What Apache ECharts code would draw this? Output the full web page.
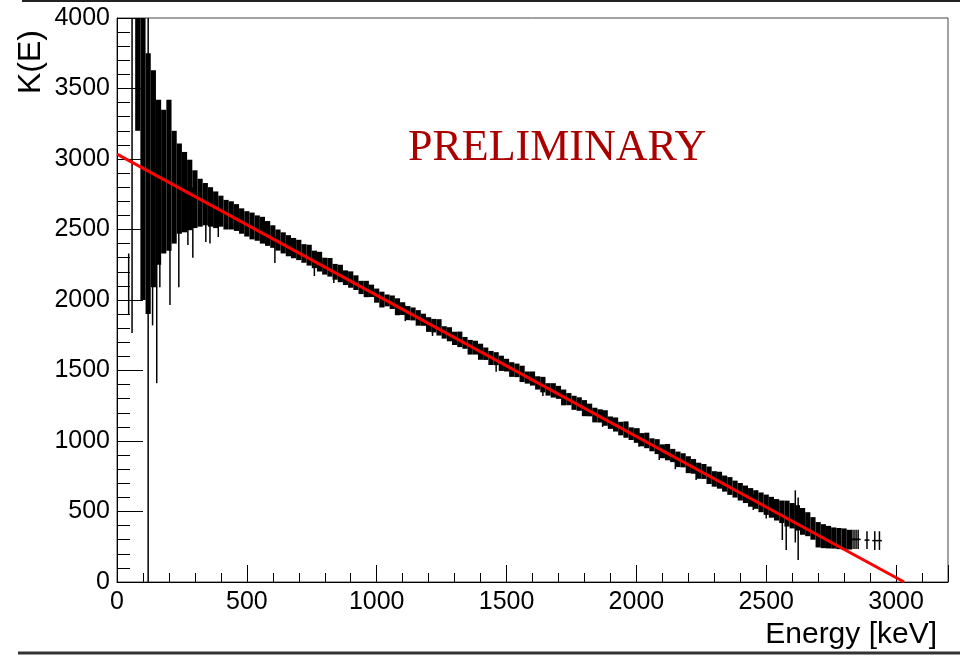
<!DOCTYPE html>
<html>
<head>
<meta charset="utf-8">
<script src="https://cdn.jsdelivr.net/npm/echarts@6/dist/echarts.min.js"></script>
<style>
html,body{margin:0;padding:0;background:#fff;}
#chart{width:960px;height:656px;}
</style>
</head>
<body>
<div id="chart"></div>
<script>
// ---- data (Kurie plot) ----
const binE = [80,100,120,140,160,180,200,220,240,260,280,300,320,340,360,380,400,420,440,460,480,500,520,540,560,580,600,620,640,660,680,700,720,740,760,780,800,820,840,860,880,900,
920,940,960,980,1000,1020,1040,1060,1080,1100,1120,1140,1160,1180,1200,1220,1240,1260,1280,1300,1320,1340,1360,1380,1400,1420,1440,1460,1480,1500,1520,1540,1560,1580,1600,1620,1640,1660,1680,1700,1720,1740,1760,1780,1800,1820,1840,1860,1880,1900,1920,1940,1960,1980,2000,2020,2040,2060,2080,2100,2120,2140,2160,2180,2200,2220,2240,2260,2280,2300,2320,2340,2360,2380,2400,2420,2440,2460,2480,2500,2520,2540,2560,2580,2600,2620,2640,2660,2680,2700,2720,2740,2760,2780,2800,2820];
const binK = [3650,3050,2825,2860,2835,2840,2885,2800,2790,2765,2745,2715,2690,2680,2660,2640,2630,2605,2600,2585,2560,2540,2525,2510,2495,2472,2450,2425,2405,2385,2368,2355,2330,2318,2288,2272,2240,2232,2200,2188,2158,2145,
2123,2089,2078,2065,2031,2003,1997,1984,1952,1939,1907,1901,1873,1860,1826,1818,1806,1770,1757,1728,1721,1696,1665,1662,1633,1619,1589,1584,1551,1538,1507,1501,1476,1450,1443,1412,1400,1366,1359,1345,1309,1297,1271,1262,1233,1220,1184,1178,1163,1130,1117,1088,1081,1052,1039,1009,1004,973,960,927,921,897,870,863,832,820,789,784,757,731,722,698,681,659,640,622,600,585,565,548,530,512,498,485,470,455,430,410,380,335,325,318,312,308,305,300];
const binErr = [450,1050,925,770,585,510,535,400,320,285,250,205,170,150,140,130,110,105,100,95,90,90,95,90,95,88,80,75,75,75,72,72,66,74,62,70,60,66,56,62,52,58,
52,47,58,44,50,56,42,48,60,45,50,46,55,43,52,48,58,44,50,47,55,42,52,49,57,44,50,46,54,45,52,48,58,43,50,47,55,44,51,46,56,43,50,48,57,45,52,47,55,44,50,48,58,45,52,47,55,46,53,49,58,47,55,50,60,52,57,53,62,55,60,57,63,60,62,62,66,66,70,72,74,76,80,92,90,90,95,85,80,90,85,80,75,75,75,70];
const binWidth = 20; // keV

// isolated bins / outliers drawn as single error bars
const spikeE    = [45,  58,  120, 137, 153, 165, 204, 238, 273, 292, 342, 358, 390, 608, 760, 835, 1110,1215,1460,1640,1870,2010,2088,2150,2230,2450,2500,2562,2577,2612,2623,2830,2838,2846,2854,2888,2918,2936];
const spikeLow  = [1900,1766,0,   1820,1410,2090,1965,2090,2390,2300,2411,2400,2447,2262,2170,2120,1850,1745,1491,1320,1100,960, 865, 800, 723, 510, 450, 298, 227, 280, 156, 234, 234, 234, 234, 234, 227, 227];
const spikeHigh = [2330,4100,4100,3000,3200,3000,2900,2900,2800,2800,2700,2700,2650,2450,2300,2230,1960,1850,1600,1420,1220,1090,960, 900, 820, 620, 560, 480, 480, 650, 600, 370, 370, 370, 370, 360, 360, 360];

// linear fit
const fitE = [0, 3031];
const fitK = [3035, 0];

const xTicksMajor = 500, xTicksMinor = 100;
const yTicksMajor = 500;

// ---- chart ----
const chart = echarts.init(document.getElementById('chart'), null, {renderer:'canvas'});
const FONT = 'Liberation Sans, Arial, Helvetica, sans-serif';

const bandData = binE.map((e, i) => [e, binK[i], binErr[i]]);
const spikeData = spikeE.map((e, i) => [e, spikeLow[i], spikeHigh[i]]);
const fitData = fitE.map((e, i) => [e, fitK[i]]);

const option = {
  animation: false,
  backgroundColor: '#ffffff',
  grid: {left:117, top:18, right:12, bottom:74, show:true, borderColor:'#444', borderWidth:1, backgroundColor:'transparent'},
  xAxis: [
    {type:'value', min:0, max:3200, interval:xTicksMajor, position:'bottom',
     axisLine:{show:true, onZero:false, lineStyle:{color:'#000', width:1}},
     axisTick:{show:true, inside:true, length:17, lineStyle:{color:'#000', width:1}},
     axisLabel:{show:true, margin:8, fontSize:25, color:'#000', fontFamily:FONT,
       formatter: v => (v % 500 === 0 ? String(v) : '')},
     splitLine:{show:false}},
    {type:'value', min:0, max:3200, interval:xTicksMinor, position:'bottom',
     axisLine:{show:false},
     axisTick:{show:true, inside:true, length:9, lineStyle:{color:'#000', width:1}},
     axisLabel:{show:false}, splitLine:{show:false}}
  ],
  yAxis: [
    {type:'value', min:0, max:4000, interval:yTicksMajor, position:'left',
     axisLine:{show:true, onZero:false, lineStyle:{color:'#000', width:1}},
     axisTick:{show:true, inside:true, length:26, lineStyle:{color:'#000', width:1}},
     minorTick:{show:true, splitNumber:5, length:13, lineStyle:{color:'#000', width:1}},
     axisLabel:{show:true, margin:7, fontSize:25, color:'#000', fontFamily:FONT, formatter: v => String(v)},
     splitLine:{show:false}}
  ],
  series: [
    {
      type:'custom', name:'data', xAxisIndex:0, yAxisIndex:0, clip:true, z:2,
      data: bandData,
      renderItem: function (params, api) {
        const e = api.value(0), k = api.value(1), s = api.value(2);
        const p1 = api.coord([e - binWidth/2, k + s]);
        const p2 = api.coord([e + binWidth/2, k - s]);
        return {type:'rect', shape:{x:p1[0], y:p1[1], width:p2[0]-p1[0], height:p2[1]-p1[1]},
                style:{fill:'#000'}};
      }
    },
    {
      type:'custom', name:'outliers', xAxisIndex:0, yAxisIndex:0, clip:true, z:2,
      data: spikeData,
      renderItem: function (params, api) {
        const e = api.value(0), lo = api.value(1), hi = api.value(2);
        const a = api.coord([e, lo]);
        const b = api.coord([e, hi]);
        const children = [{type:'line', shape:{x1:a[0], y1:a[1], x2:b[0], y2:b[1]}, style:{stroke:'#000', lineWidth:1.5}}];
        if (hi - lo < 300 && e > 2800) {
          const m = api.coord([e, (lo + hi) / 2]);
          children.push({type:'line', shape:{x1:m[0]-2.5, y1:m[1], x2:m[0]+2.5, y2:m[1]}, style:{stroke:'#000', lineWidth:1.5}});
        }
        return {type:'group', children};
      }
    },
    {
      type:'line', name:'fit', xAxisIndex:0, yAxisIndex:0, clip:true, z:3,
      data: fitData, showSymbol:false, symbol:'none',
      lineStyle:{color:'#ff0000', width:3}
    }
  ],
  graphic: [
    {type:'line', shape:{x1:22, y1:1, x2:960, y2:1}, style:{stroke:'#222', lineWidth:2}, silent:true},
    {type:'line', shape:{x1:18, y1:653, x2:960, y2:653}, style:{stroke:'#333', lineWidth:3}, silent:true},
    {type:'text', x:408, y:148, style:{text:'PRELIMINARY', font:'44px "Liberation Serif", "Times New Roman", serif', fill:'#aa0000', align:'left', verticalAlign:'middle'}, silent:true},
    {type:'text', x:937, y:650, style:{text:'Energy [keV]', font:'30px ' + FONT, fill:'#000', align:'right', verticalAlign:'bottom'}, silent:true},
    {type:'text', x:31, y:30, rotation:Math.PI/2, style:{text:'K(E)', font:'32px ' + FONT, fill:'#000', align:'right', verticalAlign:'middle'}, silent:true}
  ]
};
chart.setOption(option);
</script>
</body>
</html>
